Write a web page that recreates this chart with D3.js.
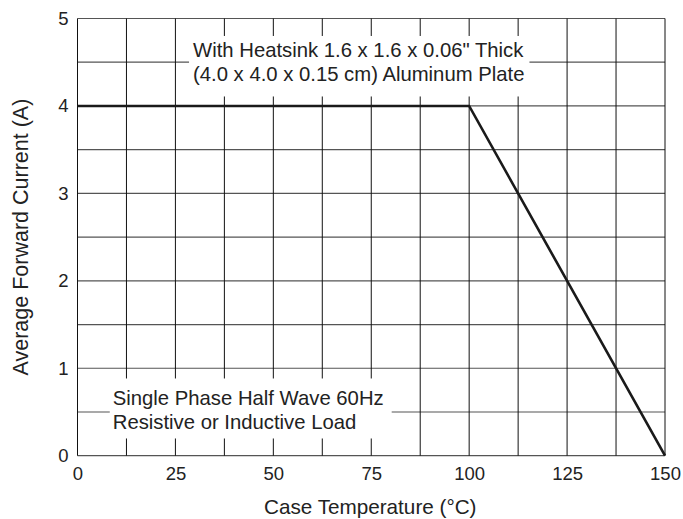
<!DOCTYPE html>
<html>
<head>
<meta charset="utf-8">
<script src="https://cdn.jsdelivr.net/npm/d3@7"></script>
<style>
  body { margin: 0; background: #fff; }
  svg { display: block; font-family: "Liberation Sans", Arial, sans-serif; }
</style>
</head>
<body>
<div id="chart"></div>
<script>
// derating curve
const caseTemp = [0, 100, 150];
const avgCurrent = [4, 4, 0];

const xTickLabels = [0, 25, 50, 75, 100, 125, 150];
const yTickLabels = [0, 1, 2, 3, 4, 5];
const xGridValues = [0, 12.5, 25, 37.5, 50, 62.5, 75, 87.5, 100, 112.5, 125, 137.5, 150];
const yGridValues = [0, 0.5, 1, 1.5, 2, 2.5, 3, 3.5, 4, 4.5, 5];

const heatsinkNote = ["With Heatsink 1.6 x 1.6 x 0.06\" Thick", "(4.0 x 4.0 x 0.15 cm) Aluminum Plate"];
const loadNote = ["Single Phase Half Wave 60Hz", "Resistive or Inductive Load"];

const W = 683, H = 519;
const margin = { top: 18.5, right: 18, bottom: 63.3, left: 77.5 };
const iw = W - margin.left - margin.right;
const ih = H - margin.top - margin.bottom;

const svg = d3.select("#chart").append("svg")
  .attr("width", W).attr("height", H);

const g = svg.append("g")
  .attr("transform", `translate(${margin.left},${margin.top})`);

const x = d3.scaleLinear().domain([0, 150]).range([0, iw]);
const y = d3.scaleLinear().domain([0, 5]).range([ih, 0]);

// horizontal grid (greyish)
g.append("g")
  .selectAll("line")
  .data(yGridValues)
  .enter().append("line")
  .attr("x1", 0).attr("x2", iw)
  .attr("y1", d => y(d)).attr("y2", d => y(d))
  .style("stroke", "#555")
  .style("stroke-width", 1.2);

// vertical grid (black)
g.append("g")
  .selectAll("line")
  .data(xGridValues)
  .enter().append("line")
  .attr("x1", d => x(d)).attr("x2", d => x(d))
  .attr("y1", 0).attr("y2", ih)
  .style("stroke", "#111")
  .style("stroke-width", 1);

// note boxes knock out the grid behind the text
// pad = [top, right, bottom, left]
function note(lines, xv, yv, pad) {
  const ng = g.append("g");
  const bg = ng.append("rect").style("fill", "#fff");
  const t = ng.append("text")
    .attr("x", x(xv)).attr("y", y(yv))
    .style("font-size", "20.3px")
    .style("fill", "#222");
  t.selectAll("tspan")
    .data(lines)
    .enter().append("tspan")
    .attr("x", x(xv))
    .attr("dy", (d, i) => i === 0 ? 0 : 24.5)
    .text(d => d);
  const bb = t.node().getBBox();
  bg.attr("x", bb.x - pad[3])
    .attr("y", bb.y - pad[0])
    .attr("width", bb.width + pad[1] + pad[3])
    .attr("height", bb.height + pad[0] + pad[2]);
}

// axes labels
const xAxis = g.append("g")
  .attr("transform", `translate(0,${ih})`)
  .call(d3.axisBottom(x).tickValues(xTickLabels).tickSize(0).tickPadding(11).tickFormat(d3.format("d")));
xAxis.select(".domain").remove();
xAxis.selectAll("text")
  .style("font-size", "18.5px")
  .style("font-family", "Liberation Sans, Arial, sans-serif")
  .style("fill", "#222");

const yAxis = g.append("g")
  .call(d3.axisLeft(y).tickValues(yTickLabels).tickSize(0).tickPadding(9).tickFormat(d3.format("d")));
yAxis.select(".domain").remove();
yAxis.selectAll("text")
  .style("font-size", "18.5px")
  .style("font-family", "Liberation Sans, Arial, sans-serif")
  .style("fill", "#222");

// the curve
const line = d3.line()
  .x((d, i) => x(caseTemp[i]))
  .y(d => y(d));

g.append("path")
  .datum(avgCurrent)
  .attr("d", line)
  .style("fill", "none")
  .style("stroke", "#1a1a1a")
  .style("stroke-width", 2.6);

note(heatsinkNote, 29.5, 4.56, [3, 5, 11, 4]);
note(loadNote, 9, 0.58, [8.5, 8, 5, 3]);

// axis titles
svg.append("text")
  .attr("x", margin.left + iw / 2 - 1)
  .attr("y", 514)
  .attr("text-anchor", "middle")
  .style("font-size", "20.7px")
  .style("fill", "#222")
  .text("Case Temperature (°C)");

svg.append("text")
  .attr("transform", `translate(28,${margin.top + ih / 2}) rotate(-90)`)
  .attr("text-anchor", "middle")
  .style("font-size", "21.5px")
  .style("fill", "#222")
  .text("Average Forward Current (A)");
</script>
</body>
</html>
